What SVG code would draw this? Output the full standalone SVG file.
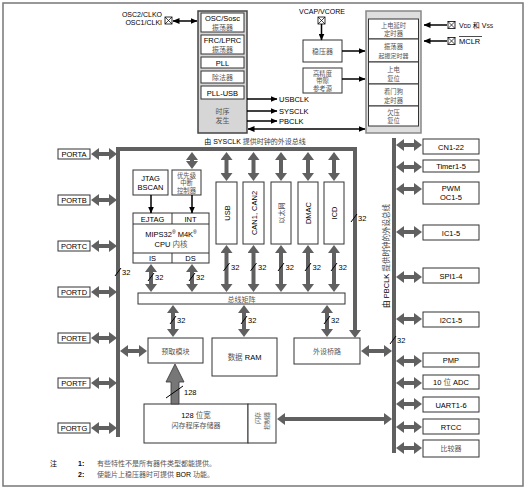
<svg xmlns="http://www.w3.org/2000/svg" width="528" height="490" viewBox="0 0 528 490">
<style>
text{font-family:"Liberation Sans","Noto Sans CJK SC",sans-serif;font-size:7.5px;fill:#000;text-anchor:middle}
.cn{fill:#555;font-size:7px}
.s{font-size:6.3px}
.l{text-anchor:start}
.e{text-anchor:end}
.box{fill:#fff;stroke:#333;stroke-width:1}
.bus{fill:none;stroke:#606060;stroke-width:4}
.ga{stroke:#606060;stroke-width:4;marker-start:url(#gh);marker-end:url(#gh)}
.bl{stroke:#000;stroke-width:1.5;fill:none;marker-end:url(#bh)}
.bl2{stroke:#000;stroke-width:1.5;fill:none;marker-start:url(#bh);marker-end:url(#bh)}
.sl{stroke:#000;stroke-width:1}
.pin{fill:#fff;stroke:#000;stroke-width:0.8}
</style>
<defs>
<marker id="gh" markerUnits="userSpaceOnUse" viewBox="0 0 8 12" refX="4" refY="6" markerWidth="8" markerHeight="12" orient="auto-start-reverse"><path d="M0,0 L8,6 L0,12 z" fill="#606060"/></marker>
<marker id="bh" markerUnits="userSpaceOnUse" viewBox="0 0 7 6" refX="6.5" refY="3" markerWidth="7" markerHeight="6" orient="auto-start-reverse"><path d="M0,0 L7,3 L0,6 z" fill="#000"/></marker>
<g id="pinsym"><rect class="pin" x="0" y="0" width="7" height="7"/><path d="M0,0 L7,7 M7,0 L0,7" stroke="#000" stroke-width="0.7"/></g>
</defs>

<rect x="3" y="3" width="520" height="483" fill="none" stroke="#777" stroke-width="1.5"/>

<!-- Clock block -->
<g id="clock">
<rect x="198" y="11" width="49" height="122" fill="#d6d6d6" stroke="#444" stroke-width="1.5"/>
<rect class="box" x="201" y="13" width="43" height="19"/>
<text x="222.5" y="21">OSC/Sosc</text><text class="cn" x="222.5" y="30">振荡器</text>
<rect class="box" x="201" y="35" width="43" height="19"/>
<text x="222.5" y="43">FRC/LPRC</text><text class="cn" x="222.5" y="52">振荡器</text>
<rect class="box" x="201" y="57" width="43" height="11"/>
<text x="222.5" y="65.5">PLL</text>
<rect class="box" x="201" y="71" width="43" height="12"/>
<text class="cn" x="222.5" y="80">除法器</text>
<rect class="box" x="201" y="86" width="43" height="13"/>
<text x="222.5" y="95.5">PLL-USB</text>
<text class="cn" x="222.5" y="114" fill="#777">时序</text>
<text class="cn" x="222.5" y="123" fill="#777">发生</text>
</g>

<g id="osc-pins">
<text class="e" x="162" y="17" style="font-size:7px">OSC2/CLKO</text>
<text class="e" x="162" y="25" style="font-size:7px">OSC1/CLKI</text>
<use href="#pinsym" x="165" y="17"/>
</g>

<!-- Reset block -->
<g id="reset">
<rect x="366" y="11" width="55" height="122" fill="#dedede" stroke="#888" stroke-width="1.5"/>
<rect class="box" x="368.5" y="19" width="50" height="20"/>
<text class="cn s" x="393.5" y="27.5">上电延时</text><text class="cn s" x="393.5" y="36">定时器</text>
<rect class="box" x="368.5" y="39" width="50" height="23"/>
<text class="cn s" x="393.5" y="49">振荡器</text><text class="cn" x="393.5" y="58" style="font-size:6px">起振定时器</text>
<rect class="box" x="368.5" y="62" width="50" height="22"/>
<text class="cn s" x="393.5" y="71.5">上电</text><text class="cn s" x="393.5" y="80.5">复位</text>
<rect class="box" x="368.5" y="84" width="50" height="22"/>
<text class="cn s" x="393.5" y="93.5">看门狗</text><text class="cn s" x="393.5" y="102.5">定时器</text>
<rect class="box" x="368.5" y="106" width="50" height="20"/>
<text class="cn s" x="393.5" y="114.5">欠压</text><text class="cn s" x="393.5" y="123">复位</text>
</g>

<g id="vdd-pin">
<use href="#pinsym" x="448" y="21.5"/>
<text class="l" x="459" y="28" style="font-size:7px">V<tspan font-size="5">DD</tspan> 和 V<tspan font-size="5">SS</tspan></text>
</g>
<g id="mclr-pin">
<use href="#pinsym" x="448" y="37.5"/>
<text class="l" x="459" y="44">MCLR</text>
<line x1="459" y1="36.5" x2="482" y2="36.5" stroke="#000" stroke-width="0.7"/>
</g>

<g id="vcap-pin">
<text x="322" y="14" style="font-size:7px">VCAP/VCORE</text>
<use href="#pinsym" x="318" y="17"/>
</g>
<g id="regulator">
<rect class="box" x="303" y="40" width="39" height="22"/>
<text class="cn" x="322.5" y="54">稳压器</text>
</g>
<g id="bandgap">
<rect class="box" x="303" y="68" width="39" height="25"/>
<text class="cn s" x="322.5" y="75.5">高精度</text>
<text class="cn s" x="322.5" y="83">带隙</text>
<text class="cn s" x="322.5" y="90.5">参考源</text>
</g>

<g id="clk-labels">
<text class="l" x="279" y="102">USBCLK</text>
<text class="l" x="279" y="114">SYSCLK</text>
<text class="l" x="279" y="124">PBCLK</text>
<text x="255" y="143.5" style="font-size:7px">由 SYSCLK <tspan fill="#444">提供时钟的外设总线</tspan></text>
<text transform="translate(389,256) rotate(-90)" x="0" y="0" style="font-size:7.5px">由 PBCLK <tspan fill="#444">提供时钟的外设总线</tspan></text>
</g>

<!-- Ports -->
<g id="porta"><rect class="box" x="58" y="149" width="32" height="10"/><text x="74" y="157">PORTA</text></g>
<g id="portb"><rect class="box" x="58" y="195" width="32" height="10"/><text x="74" y="203">PORTB</text></g>
<g id="portc"><rect class="box" x="58" y="241" width="32" height="10"/><text x="74" y="249">PORTC</text></g>
<g id="portd"><rect class="box" x="58" y="287" width="32" height="10"/><text x="74" y="295">PORTD</text></g>
<g id="porte"><rect class="box" x="58" y="333" width="32" height="10"/><text x="74" y="341">PORTE</text></g>
<g id="portf"><rect class="box" x="58" y="378" width="32" height="10"/><text x="74" y="386">PORTF</text></g>
<g id="portg"><rect class="box" x="58" y="423" width="32" height="10"/><text x="74" y="431">PORTG</text></g>

<!-- CPU area -->
<g id="jtag"><rect class="box" x="133" y="170" width="35" height="25"/><text x="150.5" y="181">JTAG</text><text x="150.5" y="189.5">BSCAN</text></g>
<g id="intctl"><rect class="box" x="172" y="170" width="29" height="25"/>
<text class="cn" x="186.5" y="177.5" style="font-size:6.3px">优先级</text><text class="cn" x="186.5" y="185" style="font-size:6.3px">中断</text><text class="cn" x="186.5" y="192.5" style="font-size:6.3px">控制器</text></g>
<g id="cpu">
<rect class="box" x="133" y="213" width="76" height="50"/>
<path d="M133,224 H209 M133,253 H209 M172,213 V224 M172,253 V263" stroke="#333" stroke-width="1" fill="none"/>
<text x="152.5" y="221.5">EJTAG</text><text x="190.5" y="221.5">INT</text>
<text x="171" y="237">MIPS32<tspan dy="-3" font-size="5">®</tspan><tspan dy="3"> M4K</tspan><tspan dy="-3" font-size="5">®</tspan></text>
<text x="171" y="247">CPU <tspan fill="#555">内核</tspan></text>
<text x="152.5" y="261">IS</text><text x="190.5" y="261">DS</text>
</g>

<g id="usb"><rect class="box" x="216" y="182" width="21" height="62"/><text transform="translate(229.5,213) rotate(-90)">USB</text></g>
<g id="can"><rect class="box" x="243" y="182" width="21" height="62"/><text transform="translate(256.5,213) rotate(-90)">CAN1, CAN2</text></g>
<g id="eth"><rect class="box" x="271" y="182" width="20" height="62"/><text class="cn" transform="translate(283.5,213) rotate(-90)">以太网</text></g>
<g id="dmac"><rect class="box" x="298" y="182" width="20" height="62"/><text transform="translate(310.5,213) rotate(-90)">DMAC</text></g>
<g id="icd"><rect class="box" x="324" y="182" width="20" height="62"/><text transform="translate(336.5,213) rotate(-90)">ICD</text></g>

<g id="busmatrix"><rect class="box" x="138" y="293" width="207" height="11"/><text class="cn" x="241.5" y="301.5">总线矩阵</text></g>
<g id="prefetch"><rect class="box" x="148" y="338" width="55" height="25"/><text class="cn" x="175.5" y="353.5">预取模块</text></g>
<g id="ram"><rect class="box" x="212" y="338" width="65" height="38"/><text x="244.5" y="360"><tspan fill="#555">数据</tspan> RAM</text></g>
<g id="bridge"><rect class="box" x="294" y="338" width="66" height="26"/><text class="cn" x="327" y="354">外设桥路</text></g>
<g id="flash"><rect class="box" x="144" y="404" width="104" height="39"/><text x="196" y="418">128 <tspan fill="#555">位宽</tspan></text><text class="cn" x="196" y="428">闪存程序存储器</text></g>
<g id="flashctl"><rect class="box" x="248" y="404" width="28" height="39"/>
<text class="cn e" transform="translate(262,423) rotate(-90)" x="11" y="-2" style="font-size:6px">闪存</text>
<text class="cn e" transform="translate(262,423) rotate(-90)" x="11" y="7" style="font-size:6px">控制器</text></g>

<!-- Right peripherals -->
<g id="cn"><rect class="box" x="423" y="139" width="56" height="15"/><text x="451" y="149.5">CN1-22</text></g>
<g id="timer"><rect class="box" x="423" y="160" width="56" height="12"/><text x="451" y="169">Timer1-5</text></g>
<g id="pwm"><rect class="box" x="423" y="182" width="56" height="22"/><text x="451" y="191">PWM</text><text x="451" y="199.5">OC1-5</text></g>
<g id="ic"><rect class="box" x="423" y="225" width="56" height="15"/><text x="451" y="235.5">IC1-5</text></g>
<g id="spi"><rect class="box" x="423" y="268" width="56" height="15"/><text x="451" y="278.5">SPI1-4</text></g>
<g id="i2c"><rect class="box" x="423" y="312" width="56" height="15"/><text x="451" y="322.5">I2C1-5</text></g>
<g id="pmp"><rect class="box" x="423" y="353" width="56" height="14"/><text x="451" y="363">PMP</text></g>
<g id="adc"><rect class="box" x="423" y="375" width="56" height="14"/><text x="451" y="385">10 <tspan fill="#555">位</tspan> ADC</text></g>
<g id="uart"><rect class="box" x="423" y="397" width="56" height="15"/><text x="451" y="407.5">UART1-6</text></g>
<g id="rtcc"><rect class="box" x="423" y="419" width="56" height="15"/><text x="451" y="429.5">RTCC</text></g>
<g id="comp"><rect class="box" x="423" y="440" width="56" height="17"/><text class="cn" x="451" y="451">比较器</text></g>

<g id="notes">
<text class="l" x="50" y="466" style="font-size:7px">注</text>
<text class="l" x="78" y="466" style="font-size:7px;font-weight:bold">1:</text>
<text class="l cn" x="97" y="466">有些特性不是所有器件类型都能提供。</text>
<text class="l" x="78" y="477" style="font-size:7px;font-weight:bold">2:</text>
<text class="l" x="97" y="477" style="font-size:7px;fill:#555">使能片上稳压器时可提供 <tspan fill="#000">BOR</tspan> 功能。</text>
</g>

<!-- Connectors -->
<g id="connectors">
<line class="bl2" x1="173" y1="21" x2="197" y2="21"/>
<line class="bl" x1="247" y1="99" x2="277" y2="99"/>
<line class="bl" x1="247" y1="111" x2="277" y2="111"/>
<line class="bl" x1="247" y1="121" x2="277" y2="121"/>
<line class="bl2" x1="248" y1="129" x2="365" y2="129"/>
<line class="bl" x1="321.5" y1="24" x2="321.5" y2="40"/>
<line class="bl" x1="342" y1="51" x2="365" y2="51"/>
<line class="bl" x1="342" y1="79" x2="365" y2="79"/>
<line class="bl" x1="447" y1="25" x2="424" y2="25"/>
<line class="bl" x1="447" y1="41" x2="424" y2="41"/>
<line class="bl" x1="151" y1="195" x2="151" y2="213"/>
<line class="bl" x1="192" y1="195" x2="192" y2="213"/>

<path class="bus" d="M118,437 V149 H355 V334" marker-end="url(#gh)"/>
<line class="bus" x1="394" y1="138" x2="394" y2="453"/>

<line class="ga" x1="95" y1="154" x2="113" y2="154"/>
<line class="ga" x1="95" y1="200" x2="113" y2="200"/>
<line class="ga" x1="95" y1="246" x2="113" y2="246"/>
<line class="ga" x1="95" y1="292" x2="113" y2="292"/>
<line class="ga" x1="95" y1="338" x2="113" y2="338"/>
<line class="ga" x1="95" y1="383" x2="113" y2="383"/>
<line class="ga" x1="95" y1="428" x2="113" y2="428"/>
<line class="ga" x1="124" y1="351" x2="143" y2="351"/>

<line class="ga" x1="192" y1="156" x2="192" y2="165"/>
<line class="ga" x1="226.5" y1="156" x2="226.5" y2="177"/>
<line class="ga" x1="253.5" y1="156" x2="253.5" y2="177"/>
<line class="ga" x1="281" y1="156" x2="281" y2="177"/>
<line class="ga" x1="308" y1="156" x2="308" y2="177"/>
<line class="ga" x1="334" y1="156" x2="334" y2="177"/>

<line class="ga" x1="151" y1="268" x2="151" y2="288"/>
<line class="ga" x1="192" y1="268" x2="192" y2="288"/>
<line class="ga" x1="226.5" y1="249" x2="226.5" y2="288"/>
<line class="ga" x1="253.5" y1="249" x2="253.5" y2="288"/>
<line class="ga" x1="281" y1="249" x2="281" y2="288"/>
<line class="ga" x1="308" y1="249" x2="308" y2="288"/>
<line class="ga" x1="334" y1="249" x2="334" y2="288"/>

<line class="ga" x1="173" y1="309" x2="173" y2="333"/>
<line class="ga" x1="244" y1="309" x2="244" y2="333"/>
<line class="ga" x1="327" y1="309" x2="327" y2="333"/>

<line class="ga" x1="365" y1="351" x2="388" y2="351"/>
<line class="ga" x1="281" y1="419" x2="388" y2="419"/>

<line class="ga" x1="400" y1="145" x2="418" y2="145"/>
<line class="ga" x1="400" y1="167" x2="418" y2="167"/>
<line class="ga" x1="400" y1="189" x2="418" y2="189"/>
<line class="ga" x1="400" y1="232" x2="418" y2="232"/>
<line class="ga" x1="400" y1="277" x2="418" y2="277"/>
<line class="ga" x1="400" y1="319" x2="418" y2="319"/>
<line class="ga" x1="400" y1="361" x2="418" y2="361"/>
<line class="ga" x1="400" y1="383" x2="418" y2="383"/>
<line class="ga" x1="400" y1="404" x2="418" y2="404"/>
<line class="ga" x1="400" y1="427" x2="418" y2="427"/>
<line class="ga" x1="400" y1="448" x2="418" y2="448"/>

<path d="M171,404 V382 H166 L175,364 L184,382 H179 V404 Z" fill="#777" stroke="#333" stroke-width="0.8"/>
</g>

<g id="width-labels">
<line class="sl" x1="115" y1="276" x2="121" y2="268"/><text class="l" x="122" y="275">32</text>
<line class="sl" x1="351" y1="222" x2="357" y2="214"/><text class="l" x="358" y="221">32</text>
<line class="sl" x1="148" y1="281" x2="154" y2="273"/><text class="l" x="155" y="280">32</text>
<line class="sl" x1="189" y1="281" x2="195" y2="273"/><text class="l" x="196" y="280">32</text>
<line class="sl" x1="223.5" y1="271" x2="229.5" y2="263"/><text class="l" x="231" y="270">32</text>
<line class="sl" x1="250.5" y1="271" x2="256.5" y2="263"/><text class="l" x="258" y="270">32</text>
<line class="sl" x1="278" y1="271" x2="284" y2="263"/><text class="l" x="285.5" y="270">32</text>
<line class="sl" x1="305" y1="271" x2="311" y2="263"/><text class="l" x="312.5" y="270">32</text>
<line class="sl" x1="331" y1="271" x2="337" y2="263"/><text class="l" x="338.5" y="270">32</text>
<line class="sl" x1="170" y1="324" x2="176" y2="316"/><text class="l" x="177" y="323">32</text>
<line class="sl" x1="241" y1="324" x2="247" y2="316"/><text class="l" x="248" y="323">32</text>
<line class="sl" x1="324" y1="324" x2="330" y2="316"/><text class="l" x="331" y="323">32</text>
<line class="sl" x1="390" y1="344" x2="396" y2="336"/><text class="l" x="397" y="343">32</text>
<line class="sl" x1="166" y1="398" x2="183" y2="386"/><text class="l" x="184" y="395">128</text>
</g>
</svg>
